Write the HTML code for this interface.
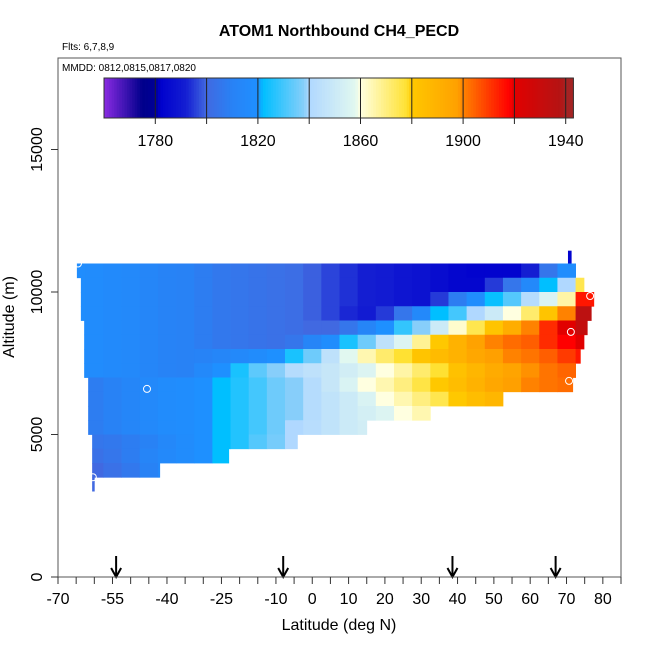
<!DOCTYPE html>
<html><head><meta charset="utf-8">
<style>
html,body{margin:0;padding:0;background:#fff;}
svg{display:block;font-family:"Liberation Sans",Arial,sans-serif;}
</style></head>
<body>
<svg id="chart" width="650" height="650" viewBox="0 0 650 650" xmlns="http://www.w3.org/2000/svg">
<rect x="0" y="0" width="650" height="650" fill="#fff"/>
<text x="339" y="36" text-anchor="middle" font-size="16" font-weight="bold">ATOM1 Northbound CH4_PECD</text>
<text x="62" y="50" font-size="10">Flts: 6,7,8,9</text>
<g id="heat"></g>
<g id="marks"></g>
<rect x="58" y="58" width="563" height="519" fill="none" stroke="#555" stroke-width="1"/>
<text x="62" y="71" font-size="10">MMDD: 0812,0815,0817,0820</text>
<g id="cbar"></g>
<g id="axes"></g>
<text x="339" y="630" text-anchor="middle" font-size="16">Latitude (deg N)</text>
<text transform="translate(14,317) rotate(-90)" text-anchor="middle" font-size="16">Altitude (m)</text>
</svg>
<script>
const colLats=[-65,-60,-55,-50,-45,-40,-35,-30,-25,-20,-15,-10,-5,0,5,10,15,20,25,30,35,40,45,50,55,60,65,70,75];
const rowBottoms=[10500,10000,9500,9000,8500,8000,7500,7000,6500,6000,5500,5000,4500,4000,3500];
const rowLeft=[-64.8,-63.7,-63.7,-63.7,-62.8,-62.8,-62.8,-62.8,-61.7,-61.7,-61.7,-61.7,-60.6,-60.6,-60.6];
const rowRight=[72.5,74.8,77.6,76.8,75.7,74.8,73.8,72.5,71.7,52.7,33.7,15.0,-4.1,-23.0,-42.0];
const row1=[1818,1817,1816,1815,1813,1811,1810,1808,1806,1805,1804,1803,1802,1799,1796,1794,1792,1791,1789,1788,1786,1784,1783,1783,1783,1792,1805,1818,1822];
const row2=[1818,1817,1816,1815,1813,1811,1810,1808,1806,1805,1804,1803,1802,1799,1796,1794,1792,1791,1789,1788,1786,1784,1784,1795,1805,1815,1822,1840,1875];
const row3=[1818,1817,1816,1815,1813,1811,1810,1808,1806,1805,1804,1803,1802,1799,1796,1794,1792,1791,1789,1788,1795,1808,1818,1823,1832,1842,1855,1866,1915];
const row4=[1818,1817,1816,1815,1813,1811,1810,1808,1806,1805,1804,1803,1802,1799,1796,1793,1791,1795,1805,1815,1822,1830,1840,1850,1860,1872,1882,1900,1935];
const row5=[1818,1817,1816,1815,1813,1811,1810,1808,1806,1805,1804,1803,1802,1800,1800,1805,1812,1820,1828,1838,1850,1862,1875,1882,1892,1900,1912,1920,1932];
const row6=[1818,1817,1816,1815,1813,1811,1810,1808,1806,1805,1804,1803,1805,1812,1818,1825,1835,1845,1856,1868,1880,1890,1897,1900,1903,1905,1912,1918,1920];
const row7=[1818,1817,1816,1815,1813,1811,1810,1811,1813,1815,1817,1820,1825,1835,1845,1858,1865,1872,1878,1882,1886,1890,1895,1898,1900,1902,1905,1910,1915];
const row8=[1818,1817,1816,1815,1813,1811,1810,1815,1820,1825,1833,1838,1842,1845,1848,1852,1856,1860,1866,1872,1878,1883,1888,1893,1896,1899,1902,1904,1905];
const row9=[1808,1808,1810,1813,1815,1817,1818,1820,1822,1826,1830,1835,1838,1842,1848,1855,1860,1865,1870,1876,1880,1885,1890,1895,1898,1900,1902,1903];
const row10=[1808,1808,1810,1813,1815,1817,1818,1820,1822,1826,1830,1835,1838,1842,1846,1850,1855,1860,1865,1870,1875,1880,1885,1888];
const row11=[1808,1808,1810,1813,1815,1817,1818,1820,1822,1826,1830,1835,1838,1842,1846,1850,1853,1856,1860,1865];
const row12=[1808,1808,1810,1813,1815,1817,1818,1820,1822,1826,1830,1835,1840,1843,1846,1850,1852];
const row13=[1805,1805,1806,1808,1810,1814,1817,1820,1822,1826,1832,1836,1840,1840];
const row14=[1803,1803,1805,1808,1812,1815,1817,1820,1822,1824];
const row15=[1800,1800,1803,1806,1810,1815];
const rows=[row1,row2,row3,row4,row5,row6,row7,row8,row9,row10,row11,row12,row13,row14,row15];
const rowHeight=500;
const xTickVals=[-70,-55,-40,-25,-10,0,10,20,30,40,50,60,70,80];
const yTickVals=[0,5000,10000,15000];
const arrowLats=[-54,-8,38.6,67];
const circleLats=[-64.5,-45.5,71.2,76.5,70.7,-60.4];
const circleAlts=[11000,6600,8600,9860,6880,3500];
const cbarTicks=[1780,1820,1860,1900,1940];

const NS="http://www.w3.org/2000/svg";
const xs=l=>58+(l+70)*563/155;
const ys=a=>577-a*0.0285;
function mk(tag,attrs,parent){const e=document.createElementNS(NS,tag);for(const k in attrs)e.setAttribute(k,attrs[k]);parent.appendChild(e);return e;}

const stops=[[1760,[138,43,226]],[1775,[0,0,139]],[1780,[0,0,150]],[1782,[0,0,205]],[1792,[20,30,210]],[1800,[65,105,225]],[1810,[40,130,245]],[1820,[30,144,255]],[1822,[0,191,255]],[1838,[135,206,250]],[1840,[176,216,255]],[1858,[225,248,240]],[1860,[255,255,224]],[1878,[255,225,50]],[1880,[255,200,0]],[1898,[255,160,0]],[1900,[255,130,0]],[1918,[255,0,0]],[1920,[225,0,0]],[1938,[180,20,20]],[1940,[165,35,35]],[1945,[165,35,35]]];
function col(v){
  if(v<=stops[0][0])return 'rgb('+stops[0][1].join(',')+')';
  for(let i=0;i<stops.length-1;i++){const a=stops[i],b=stops[i+1];
    if(v<=b[0]){const t=(v-a[0])/(b[0]-a[0]);return 'rgb('+a[1].map((c,j)=>Math.round(c+(b[1][j]-c)*t)).join(',')+')';}}
  return 'rgb('+stops[stops.length-1][1].join(',')+')';
}

const heat=document.getElementById('heat');
rows.forEach((r,ri)=>{
  const y0=ys(rowBottoms[ri]+rowHeight), y1=ys(rowBottoms[ri]);
  r.forEach((v,ci)=>{
    let l0=Math.max(colLats[ci]-2.5,rowLeft[ri]), l1=Math.min(colLats[ci]+2.5,rowRight[ri]);
    if(l1<=l0)return;
    const c=mk('rect',{x:xs(l0),y:y0,width:xs(l1)-xs(l0)+0.4,height:y1-y0+0.4,fill:col(v)},heat);
    
    
  });
});
const bitA=mk('rect',{x:xs(70.4),y:ys(11450),width:xs(71.4)-xs(70.4),height:ys(11000)-ys(11450),fill:col(1783)},heat);


const bitB=mk('rect',{x:xs(-60.6),y:ys(3500),width:xs(-59.9)-xs(-60.6),height:ys(3000)-ys(3500),fill:col(1800)},heat);



const marks=document.getElementById('marks');
circleLats.forEach((l,i)=>{
  const c=mk('circle',{cx:xs(l),cy:ys(circleAlts[i]),r:3.5,fill:'none',stroke:'#fff','stroke-width':1},marks);
  
  
});
arrowLats.forEach(l=>{
  const x=xs(l);
  const g=mk('g',{},marks);
  
  
  mk('line',{x1:x,y1:556,x2:x,y2:576,stroke:'#000','stroke-width':2},g);
  mk('path',{d:`M${x-5},${568} L${x},${577} L${x+5},${568}`,fill:'none',stroke:'#000','stroke-width':2},g);
});

const ax=document.getElementById('axes');
for(let l=-70;l<=85;l+=5){
  const t=mk('line',{x1:xs(l),y1:577,x2:xs(l),y2:584,stroke:'#333','stroke-width':1},ax);
  
  
}
xTickVals.forEach(v=>{
  const t=mk('text',{x:xs(v),y:604,'text-anchor':'middle','font-size':16},ax);
  t.textContent=v;
  
  
});
yTickVals.forEach(v=>{
  const y=ys(v);
  const t=mk('line',{x1:51,y1:y,x2:58,y2:y,stroke:'#333','stroke-width':1},ax);
  
  
  const tx=mk('text',{transform:`translate(42,${y}) rotate(-90)`,'text-anchor':'middle','font-size':16},ax);
  tx.textContent=v;
  
  
});

const cb=document.getElementById('cbar');
const cx=v=>104+(v-1760)*2.565;
for(let v=1760;v<1943;v+=1){
  const r=mk('rect',{x:cx(v),y:78,width:2.565+0.4,height:40,fill:col(v+0.5)},cb);
  
  
}
mk('rect',{x:cx(1760),y:78,width:cx(1943)-cx(1760),height:40,fill:'none',stroke:'#333','stroke-width':1},cb);
for(let v=1780;v<=1940;v+=20){
  const l=mk('line',{x1:cx(v),y1:78,x2:cx(v),y2:118,stroke:'#222','stroke-width':1},cb);
  
  
  mk('line',{x1:cx(v),y1:118,x2:cx(v),y2:124,stroke:'#222','stroke-width':1},cb);
}
cbarTicks.forEach(v=>{
  const t=mk('text',{x:cx(v),y:146,'text-anchor':'middle','font-size':16},cb);
  t.textContent=v;
  
  
});
</script>
</body></html>
